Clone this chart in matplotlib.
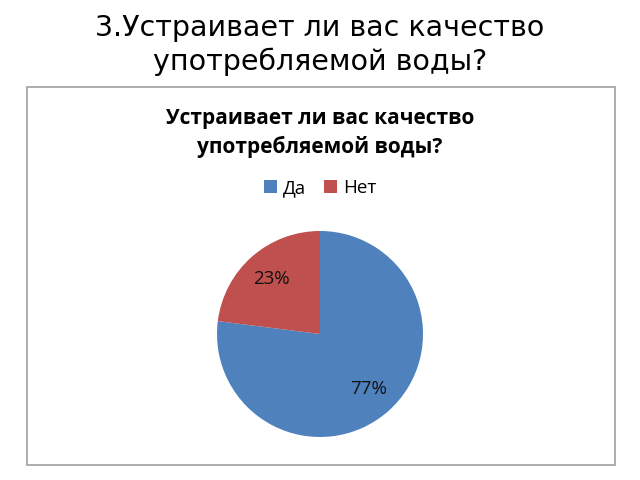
import matplotlib
matplotlib.use("Agg")
import matplotlib.pyplot as plt
from matplotlib.patches import Rectangle, Patch

categories = ["Да", "Нет"]
shares = [77, 23]
colors = ["#4F81BD", "#C0504D"]

slide_title = "3.Устраивает ли вас качество\nупотребляемой воды?"
chart_title = "Устраивает ли вас качество\nупотребляемой воды?"

W, H = 640, 480
fig = plt.figure(figsize=(W / 100, H / 100), dpi=100)
CF = ["Open Sans", "DejaVu Sans"]

fig.text(0.5, 1 - 45 / H, slide_title, ha="center", va="center", fontsize=20.5,
         family="DejaVu Sans", linespacing=1.25)

# chart frame
fig.patches.append(Rectangle((27 / W, 1 - 465 / H), 588 / W, 378 / H,
                             transform=fig.transFigure, fill=False,
                             edgecolor="#a0a0a0", lw=1.2))

fig.text(0.5, 1 - 133 / H, chart_title, ha="center", va="center", fontsize=15,
         fontweight="bold", family=CF, linespacing=1.45)

cx, cy, r = 320, 334, 103
ax = fig.add_axes([(cx - r) / W, (H - cy - r) / H, 2 * r / W, 2 * r / H])
ax.pie(shares, colors=colors, startangle=90, counterclock=False,
       autopct="%d%%", pctdistance=0.71,
       textprops=dict(fontsize=13.5, family=CF, color="#111111"))
ax.set_xlim(-1, 1); ax.set_ylim(-1, 1); ax.set_aspect("equal")
ax.axis("off")

handles = [Patch(facecolor=c, edgecolor="none") for c in colors]
fig.legend(handles, categories, loc="center", bbox_to_anchor=(0.5, 1 - 188 / H),
           ncol=2, frameon=False, prop=dict(family=CF, size=13.5),
           handlelength=0.7, handleheight=0.7, handletextpad=0.3, columnspacing=1.0)

fig.savefig("out.png", dpi=100)
